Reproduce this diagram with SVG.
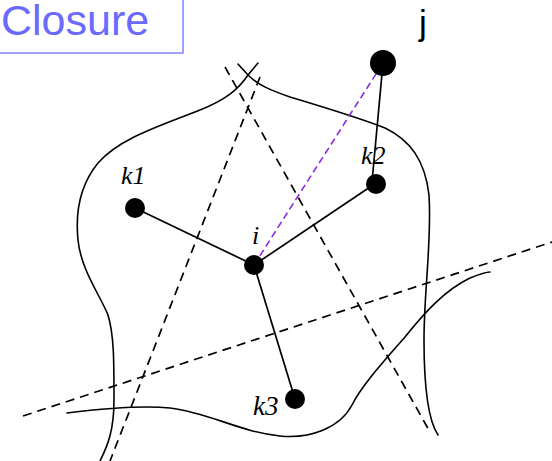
<svg xmlns="http://www.w3.org/2000/svg" width="552" height="461" viewBox="0 0 552 461">
<style>
.bd{fill:none;stroke:#000;stroke-width:1.6;stroke-linecap:round}
.ds{fill:none;stroke:#000;stroke-width:1.7;stroke-dasharray:9 6}
.ed{stroke:#000;stroke-width:1.7}
.pu{stroke:#8a2be2;stroke-width:1.6;stroke-dasharray:7 4}
.nd{fill:#000}
.lb{font-family:"Liberation Serif",serif;font-style:italic;fill:#000}
</style>
<rect width="552" height="461" fill="#fff"/>
<g id="title">
<rect x="-2" y="-2" width="185" height="55" fill="none" stroke="#8080ff" stroke-width="1.5"/>
<text x="1" y="35" font-family="Liberation Sans, Arial, sans-serif" font-size="43" fill="#6a6aff">Closure</text>
</g>
<g id="region">
<path class="bd" d="M258,63 L248,75 C238,90 225,100 200,110 C160,126 120,138 98,163 C80,185 75,210 78,240 C81,270 100,295 108,315 C114,335 114,360 114,400 C114,430 108,445 100,461"/>
<path class="bd" d="M238,64 L248,75 C258,85 270,90 290,97 C320,106 360,118 385,128 C410,140 425,160 429,195 C432,240 424,290 424,340 C424,390 428,420 438,435"/>
<path class="bd" d="M67,413 C100,409 140,405 170,408 C210,413 240,432 280,436 C310,439 340,428 352,405 C362,385 385,360 405,337 C425,312 445,290 470,278 C480,274 487,272 490,272"/>
</g>
<g id="bisectors">
<path class="ds" d="M260,77 L110,461"/>
<path class="ds" d="M225,67 L430,432"/>
<path class="ds" d="M23,416 L552,242"/>
</g>
<g id="connectors">
<line class="ed" x1="135" y1="208" x2="254" y2="265"/>
<line class="ed" x1="254" y1="265" x2="376" y2="183"/>
<line class="ed" x1="254" y1="265" x2="295" y2="399"/>
<line class="ed" x1="383" y1="63" x2="372" y2="182"/>
<line class="pu" x1="254" y1="265" x2="383" y2="63"/>
</g>
<g id="node-j">
<circle class="nd" cx="383" cy="63" r="13"/>
<text x="419" y="35" font-family="Liberation Sans, Arial, sans-serif" font-size="35" fill="#000">j</text>
</g>
<g id="node-k1">
<circle class="nd" cx="135" cy="208" r="10"/>
<text class="lb" x="121" y="184" font-size="26">k1</text>
</g>
<g id="node-k2">
<circle class="nd" cx="376" cy="184" r="10"/>
<text class="lb" x="361" y="164" font-size="26">k2</text>
</g>
<g id="node-i">
<circle class="nd" cx="254" cy="265" r="10"/>
<text class="lb" x="252" y="244" font-size="26">i</text>
</g>
<g id="node-k3">
<circle class="nd" cx="295" cy="399" r="10"/>
<text class="lb" x="253" y="415" font-size="27">k3</text>
</g>
</svg>
